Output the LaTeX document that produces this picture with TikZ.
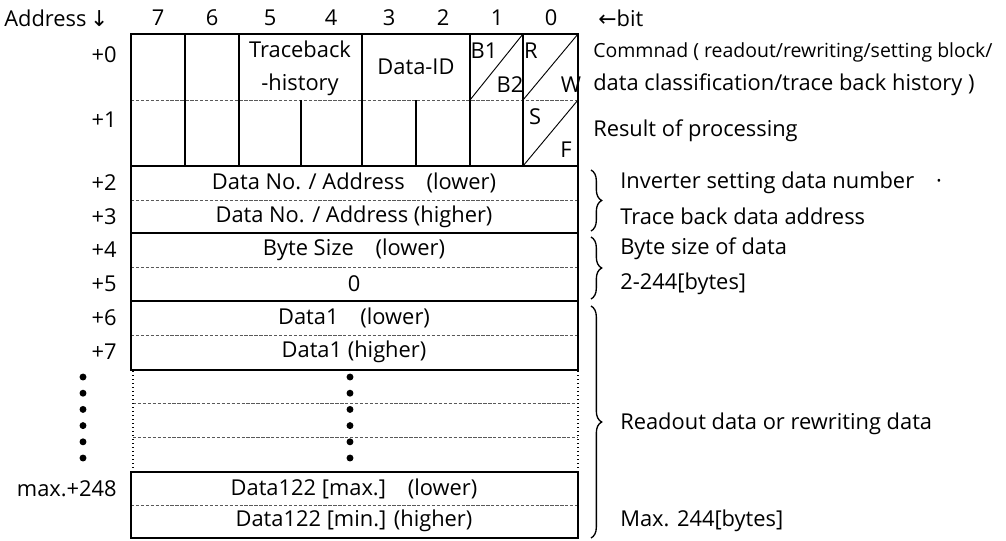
\documentclass[tikz,border=0pt]{standalone}
\usepackage{fontspec}
\setmainfont{Open Sans}
\newfontfamily\arrowfont{DejaVu Sans}
\usetikzlibrary{decorations.pathreplacing}

\begin{document}
\begin{tikzpicture}[x=0.75pt,y=-0.75pt,
    frame/.style={line width=1.6pt},
    cell/.style={line width=1pt},
    diag/.style={line width=0.7pt},
    sep/.style={gray!70!black,line width=0.6pt,dash pattern=on 2.5pt off 1.2pt},
    side/.style={line width=1pt,dash pattern=on 1pt off 2pt},
    txt/.style={inner sep=0pt,font=\fontsize{16.4}{25}\selectfont},
    small/.style={inner sep=0pt,font=\fontsize{14.6}{15}\selectfont},
    addr/.style={txt,anchor=east},
    note/.style={txt,anchor=west},
    brc/.style={decorate,decoration={brace,amplitude=8pt},line width=1pt}]
  \useasboundingbox (0,0) rectangle (1006,540);
  % header
  \node[txt,anchor=west] (addrhead) at (4,18) {Address\,{\arrowfont ↓}};
  \foreach \b/\x in {7/158,6/212,5/270,4/331,3/389,2/443,1/497,0/551}
    \node[txt] (bit\b) at (\x,18) {\b};
  \node[note] (bithead) at (598,18) {{\arrowfont ←}bit};
  % addresses
  \foreach \a/\y in {0/55,1/120,2/183,3/217,4/250,5/284,6/318,7/352}
    \node[addr] (a\a) at (117,\y) {+\a};
  \node[addr] (amax) at (117,489) {max.+248};
  \foreach \i in {0,...,5} {
    \fill (83,377+\i*16.2) circle (2.6pt);
    \fill (350,377+\i*16.2) circle (2.6pt);
  }
  % command / result bytes
  \draw[sep] (131,100) -- (578,100);
  \foreach \x in {185,239,362,470,523} \draw[cell] (\x,34) -- (\x,100);
  \foreach \x in {185,239,301,362,416,470,523} \draw[cell] (\x,100) -- (\x,166);
  \draw[diag] (470,100) -- (523,34);
  \draw[diag] (523,100) -- (578,34);
  \draw[diag] (523,166) -- (578,100);
  \draw[frame] (131,34) rectangle (578,166);
  \node[txt,align=center] (trace) at (300,68) {Traceback\\-history};
  \node[txt] (dataid) at (416,67) {Data-ID};
  \node[txt] (b1) at (484,51) {B1};
  \node[txt] (b2) at (510,85) {B2};
  \node[txt] (r) at (531,51) {R};
  \node[txt] (w) at (571,85) {W};
  \node[txt] (s) at (535,117) {S};
  \node[txt] (f) at (566,150) {F};
  % two-byte fields
  \draw[sep] (131,200) -- (578,200);
  \draw[frame] (131,166) rectangle (578,233);
  \draw[sep] (131,267) -- (578,267);
  \draw[frame] (131,233) rectangle (578,301);
  \draw[sep] (131,335) -- (578,335);
  \draw[frame] (131,301) rectangle (578,370);
  \draw[sep] (133,403) -- (578,403);
  \draw[sep] (133,437) -- (578,437);
  \draw[side] (133,371) -- (133,468);
  \draw[side] (578,371) -- (578,468);
  \draw[sep] (131,505) -- (578,505);
  \draw[frame] (131,472) rectangle (578,538);
  \node[txt] (no1) at (354,183) {Data No. / Address\quad(lower)};
  \node[txt] (no2) at (354,217) {Data No. / Address (higher)};
  \node[txt] (sz1) at (354,250) {Byte Size\quad(lower)};
  \node[txt] (sz2) at (354,284) {0};
  \node[txt] (d1l) at (354,318) {Data1\quad(lower)};
  \node[txt] (d1h) at (354,352) {Data1 (higher)};
  \node[txt] (dml) at (354,489) {Data122 [max.]\quad(lower)};
  \node[txt] (dmh) at (354,521) {Data122 [min.] (higher)};
  % notes
  \node[small,anchor=west] (cmd1) at (593,52) {Commnad ( readout/rewriting/setting block/};
  \node[note] (cmd2) at (593,85) {data classification/trace back history )};
  \node[note] (res) at (593,131) {Result of processing};
  \coordinate (br1a) at (591,170);
  \coordinate (br1b) at (591,231);
  \coordinate (br2a) at (591,237);
  \coordinate (br2b) at (591,299);
  \coordinate (br3a) at (591,306);
  \coordinate (br3b) at (591,538);
  \draw[brc] (br1a) -- (br1b);
  \draw[brc] (br2a) -- (br2b);
  \draw[brc] (br3a) -- (br3b);
  \node[note] (inv) at (620,183) {Inverter setting data number\quad·};
  \node[note] (tba) at (620,216) {Trace back data address};
  \node[note] (bsz) at (620,249) {Byte size of data};
  \node[note] (rng) at (620,284) {2-244[bytes]};
  \node[note] (rd) at (620,424) {Readout data or rewriting data};
  \node[note] (mx) at (620,521) {Max. 244[bytes]};
\end{tikzpicture}
\end{document}
